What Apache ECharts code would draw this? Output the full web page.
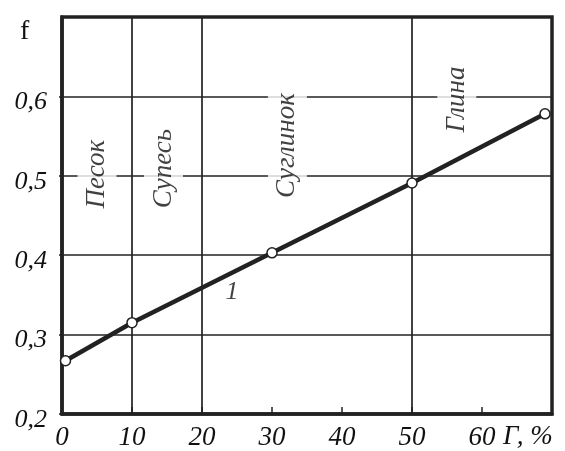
<!DOCTYPE html>
<html>
<head>
<meta charset="utf-8">
<script src="https://cdn.jsdelivr.net/npm/echarts@6/dist/echarts.min.js"></script>
<style>html,body{margin:0;padding:0;background:#fff}#c{width:565px;height:451px}</style>
</head>
<body>
<div id="c"></div>
<script>
// Data
const xValues = [0.5, 10, 30, 50, 69];
const fValues = [0.267, 0.315, 0.403, 0.491, 0.578];
const soilBoundaries = [10, 20, 50];
const soilNames = ['Песок', 'Супесь', 'Суглинок', 'Глина'];
const soilLabelX = [5.0, 14.5, 32.2, 56.4];
const soilLabelY = [0.502, 0.509, 0.538, 0.596];
const curveLabel = ['1'];
const curveLabelX = [24.3];
const curveLabelY = [0.353];
const xTicks = [0, 10, 20, 30, 40, 50, 60];
const yTicks = [0.2, 0.3, 0.4, 0.5, 0.6];

const FONT = 'Liberation Serif';
const INK = '#222';
const TXT = '#111';

const chart = echarts.init(document.getElementById('c'), null, {renderer: 'canvas'});

const soilData = soilNames.map((n, i) => ({value: [soilLabelX[i], soilLabelY[i]], name: n}));
const curveData = curveLabel.map((n, i) => ({value: [curveLabelX[i], curveLabelY[i]], name: n}));

chart.setOption({
  animation: false,
  backgroundColor: '#fff',
  grid: {left: 62, right: 13, top: 17, bottom: 36, show: true, borderColor: INK, borderWidth: 3.5, backgroundColor: 'transparent'},
  xAxis: {
    type: 'value', min: 0, max: 70, interval: 10,
    axisLine: {show: true, lineStyle: {color: INK, width: 3.5}},
    axisTick: {show: true, inside: true, length: 7, lineStyle: {color: INK, width: 1.5}},
    splitLine: {show: false},
    axisLabel: {
      margin: 10, showMinLabel: true, showMaxLabel: false,
      color: TXT, fontFamily: FONT, fontStyle: 'italic', fontSize: 27,
      formatter: v => xTicks.includes(v) ? String(v) : ''
    }
  },
  yAxis: {
    type: 'value', min: 0.2, max: 0.7, interval: 0.1,
    axisLine: {show: true, lineStyle: {color: INK, width: 3.5}},
    axisTick: {show: true, inside: false, length: 3, lineStyle: {color: INK, width: 1.5}},
    splitLine: {show: true, lineStyle: {color: INK, width: 1.7}},
    axisLabel: {
      margin: 15, showMaxLabel: false,
      color: TXT, fontFamily: FONT, fontStyle: 'italic', fontSize: 26,
      verticalAlign: 'top', lineHeight: 12,
      formatter: v => {
        const t = yTicks.find(y => Math.abs(y - v) < 1e-6);
        return t === undefined ? '' : t.toFixed(1).replace('.', ',');
      }
    }
  },
  graphic: [
    {type: 'text', left: 20, top: 18, style: {text: 'f', font: '28px "' + FONT + '"', fill: TXT}},
    {type: 'text', left: 503, top: 423, style: {text: 'Г, %', font: 'italic 27px "' + FONT + '"', fill: TXT}}
  ],
  series: [
    {
      type: 'line',
      data: xValues.map((x, i) => [x, fValues[i]]),
      symbol: 'circle', symbolSize: 10,
      itemStyle: {color: '#fff', borderColor: INK, borderWidth: 1.5},
      lineStyle: {color: INK, width: 4.5},
      z: 5,
      markLine: {
        silent: true, symbol: 'none', label: {show: false},
        lineStyle: {color: INK, width: 1.7, type: 'solid'},
        data: soilBoundaries.map(b => ({xAxis: b}))
      }
    },
    {
      type: 'scatter', symbolSize: 0, silent: true, z: 10,
      data: soilData,
      label: {
        show: true, position: 'inside', rotate: 90,
        formatter: p => p.name,
        color: TXT, fontFamily: FONT, fontStyle: 'italic', fontSize: 27,
        backgroundColor: '#fff', padding: [6, 3, 6, 3]
      }
    },
    {
      type: 'scatter', symbolSize: 0, silent: true, z: 10,
      data: curveData,
      label: {
        show: true, position: 'inside',
        formatter: p => p.name,
        color: TXT, fontFamily: FONT, fontStyle: 'italic', fontSize: 26
      }
    }
  ]
});
</script>
</body>
</html>
